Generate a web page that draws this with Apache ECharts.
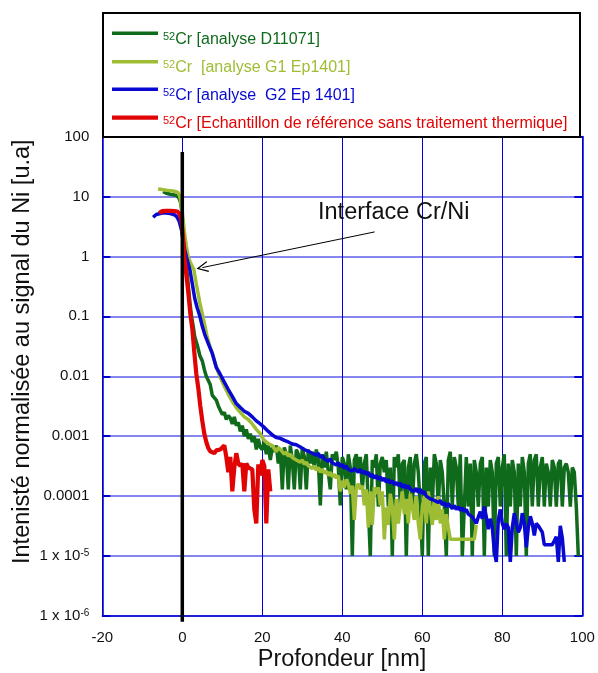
<!DOCTYPE html>
<html><head><meta charset="utf-8">
<script src="https://cdn.jsdelivr.net/npm/echarts@6/dist/echarts.min.js"></script>
<style>html,body{margin:0;padding:0;background:#fff}#c{width:598px;height:673px}</style>
</head><body><div id="c"></div>
<script>
// ---------- tick labels ----------
const xTickValues = [-20, 0, 20, 40, 60, 80, 100];
const yTickExponents = [-6, -5, -4, -3, -2, -1, 0, 1, 2];
const yTickLabels = ['1 x 10^-6', '1 x 10^-5', '0.0001', '0.001', '0.01', '0.1', '1', '10', '100'];

// ---------- series names ----------
const isotope = '52';
const seriesNames = ['Cr [analyse D11071]', 'Cr  [analyse G1 Ep1401]', 'Cr [analyse  G2 Ep 1401]', 'Cr [Echantillon de référence sans traitement thermique]'];
const seriesColors = ['#106a1c', '#9fbd34', '#0808d0', '#e00404'];

const tailStep = 0.5;

// ---------- D11071 (dark green) ----------
const greenHeadDepth = [-4.8,-4.5,-4,-3,-2,-1.4,-0.8,-0.4,-0.1,0.3,0.8,1.3,1.9,2.3,2.7,3.1,3.8,4.4,5.0,5.5,6.0,6.5,7.0,7.5,8.0,8.5,9.0,9.5,10.0,10.5,11.0,11.5,12,12.5,13,13.5,14,14.5,15,15.5,16,16.5,17,17.5,18,18.5,19,19.5];
const greenHeadValue = [12,11.8,11.3,10.9,10.6,10.3,9.3,7.8,5.5,2.2,1.0,0.45,0.17,0.1,0.07,0.046,0.032,0.022,0.018,0.013,0.010,0.0085,0.0072,0.0048,0.0050,0.0040,0.0032,0.0034,0.0023,0.0025,0.0019,0.0022,0.0020,0.0016,0.0021,0.0015,0.0017,0.0012,0.0015,0.0010,0.0013,0.0009,0.0011,0.0008,0.0010,0.0006,0.0009,0.00065];
const greenTailStart = 20;
const greenTailValue = [
6e-4,8e-4,5e-4,7e-4,4e-4,6.5e-4,5.5e-4,7e-4,3.5e-4,6e-4,
1.3e-4,6.5e-4,5e-4,1.3e-4,7e-4,4e-4,1.3e-4,6e-4,5e-4,1.3e-4,
6.5e-4,4.5e-4,1.3e-4,6e-4,3.5e-4,5.5e-4,3e-4,6e-4,4e-4,7e-5,
5e-4,3e-4,5.5e-4,2.5e-4,1.3e-4,5e-4,4e-4,5.5e-4,3e-4,7e-5,
4.5e-4,3.5e-4,1.3e-4,5e-4,3e-4,1e-5,4e-4,5e-4,2.5e-4,4.5e-4,
1.3e-4,3.5e-4,5e-4,6.7e-5,1e-5,4e-4,3e-4,5e-4,6.7e-5,3.5e-4,
4.5e-4,2.5e-4,4e-4,6.7e-5,3e-4,1e-5,4.5e-4,3e-4,5e-4,6.7e-5,
3.5e-4,4e-4,1e-5,3e-4,4.5e-4,6.7e-5,3.5e-4,5e-4,2.5e-4,6.7e-5,
1e-5,3.5e-4,4.5e-4,1e-5,3e-4,6.7e-5,5e-4,3.5e-4,6.7e-5,4e-4,
2.5e-4,6.7e-5,1e-5,4e-4,5.5e-4,6.7e-5,4.5e-4,3e-4,6.7e-5,5e-4,
1e-5,1e-5,4.5e-4,6.7e-5,3.5e-4,1e-5,4e-4,2.5e-4,6.7e-5,3.5e-4,
4.5e-4,1e-5,3e-4,6.7e-5,4e-4,2.5e-4,1e-5,3.5e-4,4.5e-4,6.7e-5,
3e-4,5e-4,1e-5,3.5e-4,6.7e-5,4e-4,2.5e-4,1e-5,3.5e-4,6.7e-5,
4.5e-4,2.5e-4,1e-5,3.5e-4,5e-4,6.7e-5,4e-4,5e-4,6.7e-5,3e-4,
4.5e-4,6.7e-5,3.5e-4,2.5e-4,6.7e-5,4e-4,3e-4,6.7e-5,3.5e-4,4e-4,
6.7e-5,3e-4,3.5e-4,2.5e-4,6.7e-5,3e-4,2.5e-4,6.7e-5,1e-5];

// ---------- G1 Ep1401 (yellow-green) ----------
const yellowHeadDepth = [-6.05,-5.5,-5,-4,-3,-2,-1.2,-0.7,-0.4,0,0.5,1.0,1.45,2.0,2.9,3.5,4.4,5.3,6.2,7.0,7.7,8.6,9.5,10.5,11.5,12.5,13.5,14.5,15.5,16.5,17.5,18.5,19.5];
const yellowHeadValue = [13.3,13.2,13,12.7,12.5,12.2,11.8,10.5,8.5,5.5,2.6,1.5,1.0,0.8,0.6,0.35,0.166,0.09,0.046,0.03,0.022,0.0135,0.0095,0.0068,0.005,0.0038,0.003,0.0025,0.0021,0.0019,0.0016,0.0013,0.0011];
const yellowTailStart = 20;
const yellowTailValue = [
9.5e-4,8.5e-4,9e-4,7.5e-4,8e-4,7e-4,7.2e-4,5.5e-4,6.5e-4,6e-4,
5.8e-4,5e-4,5.5e-4,4.6e-4,5e-4,4.4e-4,4.6e-4,4e-4,4.3e-4,3.7e-4,
4e-4,3.4e-4,3.7e-4,3.2e-4,3.4e-4,2.9e-4,3.2e-4,2.7e-4,3e-4,2.5e-4,
2.8e-4,2.4e-4,2.6e-4,2.2e-4,2.5e-4,2.1e-4,2.3e-4,2e-4,2.2e-4,1.2e-4,
1.8e-4,1.4e-4,1.9e-4,1.6e-4,1.1e-4,1.5e-4,4e-5,1.4e-4,1.6e-4,1.3e-4,
1.5e-4,7e-5,1.3e-4,3e-5,1.2e-4,3.3e-5,1.4e-4,1.1e-4,1.4e-4,7e-5,
1.2e-4,1.9e-5,6.5e-5,3.3e-5,1.1e-4,6.7e-5,1.9e-5,9e-5,3.5e-5,6.7e-5,
1.2e-4,5e-5,9e-5,3.5e-5,1.1e-4,6.7e-5,4e-5,1e-4,3.5e-5,1.9e-5,
6.7e-5,1e-4,3.5e-5,1.2e-4,6e-5,3.3e-5,9e-5,4e-5,1e-4,3.5e-5,
6e-5,1.9e-5,5e-5,3e-5,1.9e-5,1.9e-5,1.9e-5,1.9e-5,1.9e-5,1.9e-5,
1.9e-5,1.9e-5,1.9e-5,1.9e-5,1.9e-5,1.9e-5,1.9e-5,3.3e-5];

// ---------- G2 Ep 1401 (blue) ----------
const blueHeadDepth = [-7.3,-7.0,-6.5,-6,-5,-4,-3,-2,-1.4,-0.8,-0.2,0.6,1.0,1.9,2.5,3.1,3.7,4.4,5.0,5.6,6.5,7.5,8.5,9.5,10.5,11.5,12.5,13.5,14.5,15.5,16.5,17.5,18.5,19.5,20.5,21.5];
const blueHeadValue = [4.5,4.8,5.0,5.15,5.3,5.3,5.2,4.95,4.6,3.9,2.75,1.3,1.0,0.6,0.35,0.2,0.14,0.1,0.068,0.05,0.035,0.024,0.014,0.0107,0.008,0.006,0.0046,0.0035,0.003,0.0026,0.0024,0.0021,0.0018,0.0016,0.0014,0.0012];
const blueTailStart = 22;
const blueTailValue = [
1.15e-3,1.05e-3,1.1e-3,9.5e-4,1.0e-3,9.2e-4,9.8e-4,8.5e-4,8.8e-4,8e-4,
8.5e-4,7.4e-4,7.8e-4,7.2e-4,7e-4,6.6e-4,7e-4,6e-4,6.4e-4,5.6e-4,
6e-4,5.2e-4,5.5e-4,4.8e-4,5.2e-4,4.4e-4,4.8e-4,4.2e-4,4.5e-4,3.8e-4,
4.2e-4,3.6e-4,3.8e-4,3.3e-4,3.6e-4,3.1e-4,3.4e-4,2.9e-4,3.2e-4,2.8e-4,
3.0e-4,2.6e-4,2.9e-4,2.7e-4,2.5e-4,2.8e-4,2.4e-4,2.6e-4,2.3e-4,2.5e-4,
2.1e-4,2.3e-4,2.0e-4,2.2e-4,1.9e-4,2.1e-4,1.8e-4,2.0e-4,1.7e-4,1.9e-4,
1.65e-4,1.8e-4,1.55e-4,1.7e-4,1.5e-4,1.65e-4,1.4e-4,1.55e-4,1.35e-4,1.5e-4,
1.3e-4,1.4e-4,1.2e-4,1.35e-4,1.15e-4,1.3e-4,1.1e-4,1.2e-4,1.0e-4,1.05e-4,
9e-5,9.5e-5,8.5e-5,9e-5,7.8e-5,8.5e-5,7.2e-5,7.8e-5,6.6e-5,7.5e-5,
6.8e-5,6.2e-5,7e-5,6e-5,6.6e-5,5.8e-5,6.4e-5,5.5e-5,6e-5,5e-5,
5.2e-5,4.5e-5,4.8e-5,3.5e-5,4.5e-5,5.5e-5,4.2e-5,6.7e-5,4.5e-5,2.8e-5,
4.2e-5,3.0e-5,1.2e-5,8e-6,4e-5,6e-5,3.5e-5,2.8e-5,3.5e-5,3e-5,
8e-6,3e-5,5.2e-5,3.5e-5,2.5e-5,3e-5,5.2e-5,3.5e-5,1.4e-5,3e-5,
4.6e-5,3.5e-5,2.2e-5,3.5e-5,3.2e-5,3e-5,2.5e-5,1.55e-5,1.55e-5,1.55e-5,
1.55e-5,1.55e-5,1.8e-5,2.1e-5,8e-6,3.2e-5,2e-5,8e-6];

// ---------- reference sample (red) ----------
const redDepth = [-5.8,-5.5,-5,-4,-3,-2,-1.2,-0.6,-0.2,0.2,0.5,1.0,1.5,2.0,2.5,3.0,3.5,4.0,4.5,5.0,5.5,6.0,6.5,7.0,7.5,8.0,8.5,9,9.5,10,10.5,11,11.5,12,12.5,13,13.5,14,14.5,15,15.5,16,16.5,17,17.5,18,18.5,19,19.5,20,20.5,21,21.5,22];
const redValue = [5.3,5.6,5.7,5.75,5.75,5.7,5.6,5.0,4.0,2.0,1.0,0.5,0.25,0.11,0.063,0.025,0.011,0.0063,0.0032,0.0018,0.0011,0.0008,0.00063,0.00056,0.0006,0.00052,0.00058,0.00055,0.0006,0.00062,0.0007,0.00045,0.00025,0.00045,0.00012,0.0003,0.00052,0.00035,0.00032,0.00035,0.00012,0.00035,0.0003,0.00032,0.00028,0.00006,0.000035,0.00034,0.00022,0.0004,0.00032,0.000035,0.00028,0.00012];

// ---------- annotations (data space) ----------
const interfaceDepth = 0;
const interfaceLineTop = 55;
const interfaceLineBottom = 8e-7;
const arrowFrom = [48.1, 2.56];
const arrowTo = [5.0, 0.65];
const annotationText = 'Interface Cr/Ni';
const xTitle = 'Profondeur [nm]';
const yTitle = 'Intenisté normalisée au signal du Ni [u.a]';

// ---------- build ----------
function buildSeries(hd, hv, tailStart, tailVals) {
  const out = [];
  for (let i = 0; i < Math.min(hd.length, hv.length); i++) out.push([hd[i], hv[i]]);
  if (tailVals) tailVals.forEach((v, i) => out.push([tailStart + i * tailStep, v]));
  return out;
}
const dataSets = [
  buildSeries(greenHeadDepth, greenHeadValue, greenTailStart, greenTailValue),
  buildSeries(yellowHeadDepth, yellowHeadValue, yellowTailStart, yellowTailValue),
  buildSeries(blueHeadDepth, blueHeadValue, blueTailStart, blueTailValue),
  buildSeries(redDepth, redValue, 0, null)
];
const FONT = "'Liberation Sans', Arial, Helvetica, sans-serif";
function richTick(s) {
  const p = s.split('^');
  return p.length === 2 ? '{n|' + p[0] + '}{e|' + p[1] + '}' : '{n|' + s + '}';
}

const chart = echarts.init(document.getElementById('c'), null, {renderer: 'canvas'});
const lineWidths = [3.5, 3.5, 3.5, 4.2];
const series = dataSets.map((d, i) => ({
  name: isotope + seriesNames[i], type: 'line', data: d, showSymbol: false, symbol: 'none',
  lineStyle: {color: seriesColors[i], width: lineWidths[i]}, itemStyle: {color: seriesColors[i]},
  z: 2 + i, animation: false, silent: true
}));
series.push({
  name: 'interface', type: 'line', data: [[interfaceDepth, interfaceLineTop], [interfaceDepth, interfaceLineBottom]],
  showSymbol: false, symbol: 'none', clip: false, z: 10, silent: true, animation: false,
  lineStyle: {color: '#000', width: 3.5},
  markLine: {
    silent: true, animation: false,
    symbol: ['none', 'path://M0,0 L6,12 L4.8,12.8 L0,3 L-4.8,12.8 L-6,12 Z'], symbolSize: [11, 12],
    lineStyle: {color: '#000', width: 1, type: 'solid'}, label: {show: false},
    data: [[{coord: arrowFrom}, {coord: arrowTo}]]
  }
});

const axisBlue = '#0000cc';
const yAxisCommon = {type: 'log', logBase: 10, min: 1e-6, max: 100};
const legendRows = [33.3, 61.7, 89.3, 117.7];
const graphics = [
  {type: 'rect', z: 100, shape: {x: 103, y: 13, width: 477, height: 124}, style: {fill: '#fff', stroke: '#000', lineWidth: 2}},
  {type: 'text', z: 100, x: 22.5, y: 351.7, rotation: Math.PI / 2, style: {text: yTitle, fontSize: 23.5, fontFamily: FONT, fill: '#111', align: 'center', verticalAlign: 'middle'}},
  {type: 'text', z: 100, x: 342, y: 660, style: {text: xTitle, fontSize: 23.5, fontFamily: FONT, fill: '#111', align: 'center', verticalAlign: 'middle'}},
  {type: 'text', z: 100, x: 318, y: 213, style: {text: annotationText, fontSize: 23.5, fontFamily: FONT, fill: '#111', align: 'left', verticalAlign: 'middle'}}
];
seriesNames.forEach((nm, i) => {
  const y = legendRows[i];
  graphics.push({type: 'line', z: 101, shape: {x1: 112, y1: y, x2: 158, y2: y}, style: {stroke: seriesColors[i], lineWidth: lineWidths[i]}});
  graphics.push({type: 'text', z: 101, x: 163, y: y + 6, style: {
    text: '{s|' + isotope + '}{t|' + nm + '}', fill: seriesColors[i], fontFamily: FONT, verticalAlign: 'middle', align: 'left',
    rich: {s: {fontSize: 11, fontFamily: FONT, fill: seriesColors[i], verticalAlign: 'top'}, t: {fontSize: 16, fontFamily: FONT, fill: seriesColors[i]}}
  }});
});

chart.setOption({
  animation: false,
  backgroundColor: '#fff',
  grid: {left: 102.3, right: 15.7, top: 136.5, bottom: 57, containLabel: false},
  xAxis: {
    type: 'value', min: xTickValues[0], max: xTickValues[xTickValues.length - 1], interval: 20,
    axisLine: {show: true, lineStyle: {color: axisBlue, width: 1.5}},
    axisTick: {show: false},
    axisLabel: {fontSize: 15, fontFamily: FONT, color: '#111', margin: 14, formatter: v => String(v)},
    splitLine: {show: true, lineStyle: {color: '#0000dd', width: 1}}
  },
  yAxis: [
    Object.assign({}, yAxisCommon, {
      position: 'left',
      axisLine: {show: true, onZero: false, lineStyle: {color: axisBlue, width: 1.5}},
      axisTick: {show: true, inside: true, length: 8, lineStyle: {color: axisBlue, width: 2}},
      axisLabel: {
        margin: 13, fontFamily: FONT, color: '#111',
        formatter: v => { const e = Math.round(Math.log10(v)); const k = yTickExponents.indexOf(e); return k >= 0 ? richTick(yTickLabels[k]) : ''; },
        rich: {n: {fontSize: 15, fontFamily: FONT, color: '#111'}, e: {fontSize: 10, fontFamily: FONT, color: '#111', verticalAlign: 'top'}}
      },
      splitLine: {show: true, lineStyle: {color: '#8585ee', width: 2}}
    }),
    Object.assign({}, yAxisCommon, {
      position: 'right',
      axisLine: {show: true, onZero: false, lineStyle: {color: axisBlue, width: 1.5}},
      axisTick: {show: true, inside: true, length: 8, lineStyle: {color: axisBlue, width: 2}},
      axisLabel: {show: false},
      splitLine: {show: false}
    })
  ],
  series: series,
  graphic: graphics
});
</script>
</body></html>
